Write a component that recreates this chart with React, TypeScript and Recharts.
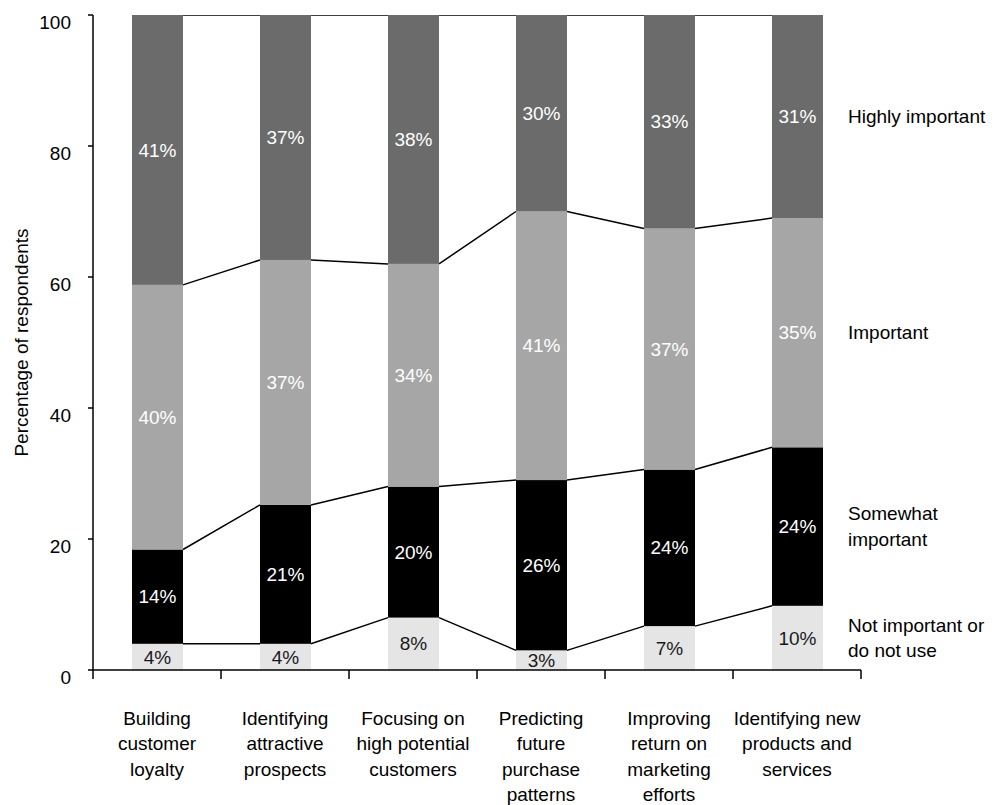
import React from 'react';
import { BarChart, Bar, XAxis, YAxis, LabelList } from 'recharts';

// ---------- data ----------
const categories = [
  'Building\ncustomer\nloyalty',
  'Identifying\nattractive\nprospects',
  'Focusing on\nhigh potential\ncustomers',
  'Predicting\nfuture\npurchase\npatterns',
  'Improving\nreturn on\nmarketing\nefforts',
  'Identifying new\nproducts and\nservices',
];
const notImportant = [4.0, 4.0, 8.0, 3.0, 6.7, 9.8];
const somewhatImportant = [14.4, 21.2, 20.0, 26.0, 23.9, 24.2];
const important = [40.4, 37.4, 34.0, 41.0, 36.8, 35.0];
const highlyImportant = [41.2, 37.4, 38.0, 30.0, 32.6, 31.0];
const yTicks = [0, 20, 40, 60, 80, 100];

const seriesKeys = ['notImportant', 'somewhat', 'important', 'highly'];
const seriesNames = ['Not important or\ndo not use', 'Somewhat\nimportant', 'Important', 'Highly important'];
const seriesColors = ['#e5e5e5', '#000000', '#a6a6a6', '#6b6b6b'];
const labelColors = ['#1a1a1a', '#ffffff', '#ffffff', '#ffffff'];

const data = categories.map((category, i) => ({
  category,
  notImportant: notImportant[i],
  somewhat: somewhatImportant[i],
  important: important[i],
  highly: highlyImportant[i],
}));

// ---------- layout ----------
const W = 997;
const H = 805;
const MARGIN = { top: 15, right: 136, bottom: 0, left: 0 };
const Y_AXIS_W = 93;
const X_AXIS_H = 135;
const PLOT_W = W - MARGIN.left - MARGIN.right - Y_AXIS_W;
const STEP = PLOT_W / categories.length;
const FONT = 19;
const LINE_H = 25.5;

const cumOf = (row: any, si: number) =>
  seriesKeys.slice(0, si + 1).reduce((s, k) => s + row[k], 0);

const rowIndex = (props: any) => {
  if (typeof props.index === 'number') return props.index;
  const cat = props.payload && props.payload.category;
  return categories.indexOf(cat);
};

function makeShape(si: number) {
  return (props: any) => {
    const { x, y, width, height, fill } = props;
    const idx = rowIndex(props);
    const top = Math.min(y, y + height);
    const h = Math.abs(height);
    const row = data[idx];
    const next = data[idx + 1];
    const value = row ? row[seriesKeys[si]] : 0;
    let connector = null;
    if (row && next && value > 0) {
      const k = h / value;
      const yZero = top + h + (cumOf(row, si) - value) * k;
      const yNext = yZero - cumOf(next, si) * k;
      connector = (
        <line x1={x + width} y1={top} x2={x + STEP} y2={yNext} stroke="#000" strokeWidth={1.5} />
      );
    }
    return (
      <g>
        <rect x={x} y={top} width={width} height={h} fill={fill} />
        {connector}
      </g>
    );
  };
}

function makeValueLabel(si: number) {
  return (props: any) => {
    const vb = props.viewBox || props;
    const x = vb.x;
    const y = vb.y;
    const width = vb.width;
    const height = vb.height;
    const top = Math.min(y, y + height);
    const h = Math.abs(height);
    const v = Number(props.value);
    return (
      <text
        x={x + width / 2}
        y={top + h / 2}
        dy="0.35em"
        textAnchor="middle"
        fontSize={FONT}
        fill={labelColors[si]}
      >
        {Math.round(v) + '%'}
      </text>
    );
  };
}

function makeSeriesName(si: number) {
  return (props: any) => {
    const idx = typeof props.index === 'number' ? props.index : -1;
    if (idx !== categories.length - 1) return null;
    const vb = props.viewBox || props;
    const top = Math.min(vb.y, vb.y + vb.height);
    const h = Math.abs(vb.height);
    const lines = seriesNames[si].split('\n');
    const cy = top + h / 2 - ((lines.length - 1) * LINE_H) / 2;
    const tx = vb.x + vb.width + 25;
    return (
      <text x={tx} y={cy} fontSize={FONT} fill="#000" textAnchor="start">
        {lines.map((l, i) => (
          <tspan key={i} x={tx} dy={i === 0 ? '0.35em' : LINE_H}>
            {l}
          </tspan>
        ))}
      </text>
    );
  };
}

const XTick = (props: any) => {
  const { x, y, payload } = props;
  const idx = categories.indexOf(payload.value);
  const lines = String(payload.value).split('\n');
  return (
    <g>
      <line x1={x - STEP / 2} y1={y} x2={x - STEP / 2} y2={y + 9} stroke="#000" strokeWidth={1.5} />
      {idx === categories.length - 1 && (
        <line x1={x + STEP / 2} y1={y} x2={x + STEP / 2} y2={y + 9} stroke="#000" strokeWidth={1.5} />
      )}
      <text x={x} y={y + 48} textAnchor="middle" fontSize={FONT} fill="#000">
        {lines.map((l, i) => (
          <tspan key={i} x={x} dy={i === 0 ? '0.35em' : LINE_H}>
            {l}
          </tspan>
        ))}
      </text>
    </g>
  );
};

const YTick = (props: any) => {
  const { x, y, payload } = props;
  return (
    <text x={x} y={y + 7} dy="0.35em" textAnchor="end" fontSize={FONT} fill="#000">
      {payload.value}
    </text>
  );
};

export default function App() {
  return (
    <div
      style={{
        position: 'absolute',
        left: 0,
        top: 0,
        width: W,
        height: H,
        background: '#fff',
        fontFamily: '"Liberation Sans", Arial, Helvetica, sans-serif',
      }}
    >
      <BarChart width={W} height={H} data={data} margin={MARGIN} barSize={51}>
        <XAxis
          dataKey="category"
          height={X_AXIS_H}
          tickLine={false}
          tickSize={0}
          tickMargin={0}
          axisLine={{ stroke: '#000', strokeWidth: 1.5 }}
          tick={<XTick />}
          interval={0}
        />
        <YAxis
          type="number"
          domain={[0, 100]}
          ticks={yTicks}
          width={Y_AXIS_W}
          tickSize={5}
          tickMargin={17}
          tickLine={{ stroke: '#000', strokeWidth: 1.5 }}
          axisLine={{ stroke: '#000', strokeWidth: 1.5 }}
          tick={<YTick />}
          allowDataOverflow
          label={{
            value: 'Percentage of respondents',
            angle: -90,
            position: 'insideLeft',
            offset: 21,
            style: { textAnchor: 'middle', fontSize: FONT, fill: '#000' },
          }}
        />
        {seriesKeys.map((key, si) => (
          <Bar
            key={key}
            dataKey={key}
            name={seriesNames[si]}
            stackId="a"
            fill={seriesColors[si]}
            isAnimationActive={false}
            shape={makeShape(si)}
          >
            <LabelList dataKey={key} content={makeValueLabel(si)} />
            <LabelList dataKey={key} content={makeSeriesName(si)} />
          </Bar>
        ))}
      </BarChart>
    </div>
  );
}
